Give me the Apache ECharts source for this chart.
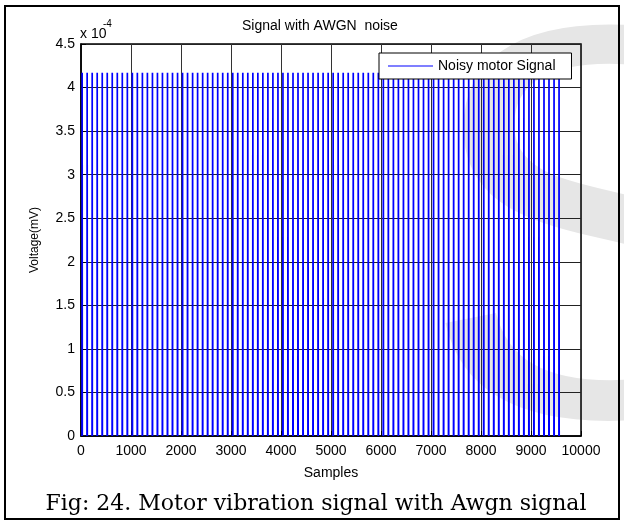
<!DOCTYPE html>
<html>
<head>
<meta charset="utf-8">
<script src="https://cdn.jsdelivr.net/npm/echarts@6/dist/echarts.min.js"></script>
<style>
html,body{margin:0;padding:0;background:#fff;}
#chart{width:624px;height:522px;}
</style>
</head>
<body>
<div id="chart"></div>
<script>
// Sample index of each oscillation crest
var stripeSamples = [
  20,120,221,321,422, 522,622,723,823,924, 1024,1124,1225,1325,1426,
  1526,1626,1727,1827,1928, 2028,2128,2229,2329,2430, 2530,2630,2731,2831,2932,
  3032,3132,3233,3333,3434, 3534,3634,3735,3835,3936, 4036,4136,4237,4337,4438,
  4538,4638,4739,4839,4940, 5040,5140,5241,5341,5442, 5542,5642,5743,5843,5944,
  6044,6144,6245,6345,6446, 6546,6646,6747,6847,6948, 7048,7148,7249,7349,7450,
  7550,7650,7751,7851,7952, 8052,8152,8253,8353,8454, 8554,8654,8755,8855,8956,
  9056,9156,9257,9357,9458, 9558
];
// Crest and trough voltage (units of 1e-4)
var crestValue = [4.17];
var troughValue = [0];
var xTicks = [0, 10000, 1000];
var yTicks = [0, 4.5, 0.5];

var seriesData = [];
stripeSamples.forEach(function (s) {
  seriesData.push([s, troughValue[0]]);
  seriesData.push([s + 3, crestValue[0]]);
  seriesData.push([s + 6, troughValue[0]]);
  seriesData.push([s + 45, '-']);
});

var chart = echarts.init(document.getElementById('chart'));
var axisFont = {fontFamily: 'Liberation Sans', fontSize: 14, color: '#000'};
chart.setOption({
  animation: false,
  backgroundColor: '#fff',
  grid: {left: 81, right: 43, top: 44, bottom: 86, show: true, borderColor: '#000', borderWidth: 1.5},
  title: {
    text: 'Signal with AWGN  noise', left: 242, top: 19, padding: 0,
    textStyle: {fontFamily: 'Liberation Sans', fontSize: 14, fontWeight: 'normal', color: '#000'}
  },
  legend: {
    show: true, left: 379, top: 53,
    backgroundColor: '#fff', borderColor: '#000', borderWidth: 1,
    padding: [6, 16, 6, 9], itemWidth: 45, itemHeight: 14,
    textStyle: {fontFamily: 'Liberation Sans', fontSize: 14, color: '#000'},
    data: [{name: 'Noisy motor Signal', icon: 'path://M0,10 L45,10 L45,11 L0,11 Z'}]
  },
  xAxis: [{
    type: 'value', min: xTicks[0], max: xTicks[1], interval: xTicks[2],
    name: 'Samples', nameLocation: 'middle', nameGap: 30,
    nameTextStyle: axisFont,
    axisLine: {lineStyle: {color: '#000', width: 1.5}},
    axisTick: {inside: true, length: 5, lineStyle: {color: '#000'}},
    axisLabel: Object.assign({margin: 8, formatter: function (v) { return String(v); }}, axisFont),
    splitLine: {show: true, lineStyle: {color: '#333', width: 1}}
  }],
  yAxis: [{
    type: 'value', min: yTicks[0], max: yTicks[1], interval: yTicks[2],
    name: 'Voltage(mV)', nameLocation: 'middle', nameGap: 40,
    nameTextStyle: {fontFamily: 'Liberation Sans', fontSize: 12, color: '#000'},
    axisLine: {lineStyle: {color: '#000', width: 1.5}},
    axisTick: {inside: true, length: 5, lineStyle: {color: '#000'}},
    axisLabel: Object.assign({margin: 6}, axisFont),
    splitLine: {show: true, lineStyle: {color: '#222', width: 1}}
  }],
  graphic: [
    {type: 'text', z: -10, left: 420, top: -19,
     style: {text: 'S', font: '560px "Liberation Sans"', fill: '#e6e6e6'}},
    {type: 'rect', z: 100, shape: {x: 5, y: 6, width: 614, height: 513},
     style: {fill: 'none', stroke: '#000', lineWidth: 2}},
    {type: 'text', z: 100, x: 80, y: 27,
     style: {text: 'x 10', font: '14px "Liberation Sans"', fill: '#000', textVerticalAlign: 'top'}},
    {type: 'text', z: 100, x: 103, y: 19,
     style: {text: '-4', font: '10px "Liberation Sans"', fill: '#000', textVerticalAlign: 'top'}},
    {type: 'text', z: 100, x: 316, y: 504,
     style: {text: 'Fig: 24. Motor vibration signal with Awgn signal', font: '22px "DejaVu Serif"', fill: '#000',
             textAlign: 'center', textVerticalAlign: 'middle'}}
  ],
  series: [{
    name: 'Noisy motor Signal', type: 'line', symbol: 'none', connectNulls: false,
    lineStyle: {color: '#0000ff', width: 1.7}, itemStyle: {color: '#0000ff'},
    data: seriesData, z: 2
  }]
});
</script>
</body>
</html>
